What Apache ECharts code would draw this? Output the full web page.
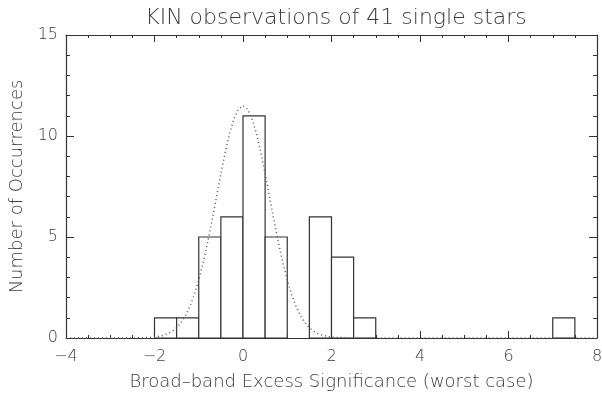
<!DOCTYPE html>
<html>
<head>
<meta charset="utf-8">
<script src="https://cdn.jsdelivr.net/npm/echarts@6/dist/echarts.min.js"></script>
<style>
  html, body { margin: 0; padding: 0; background: #fff; }
  #chart { width: 602px; height: 395px; }
</style>
</head>
<body>
<div id="chart"></div>
<script>
// histogram bins (left edge, right edge) and counts
const binLeft = [-2, -1.5, -1, -0.5, 0, 0.5, 1.5, 2, 2.5, 7];
const binRight = [-1.5, -1, -0.5, 0, 0.5, 1, 2, 2.5, 3, 7.5];
const counts = [1, 1, 5, 6, 11, 5, 6, 4, 1, 1];

// dotted curve
const curveX = [-4, -2.5, -2, -1.8, -1.7, -1.6, -1.5, -1.4, -1.3, -1.2, -1.1, -1, -0.9, -0.8, -0.7, -0.6, -0.5, -0.4, -0.3, -0.2, -0.1, 0,
  0.1, 0.2, 0.3, 0.4, 0.5, 0.6, 0.7, 0.8, 0.9, 1, 1.1, 1.2, 1.3, 1.4, 1.5, 1.6, 1.7, 1.8, 2, 2.5, 8];
const curveY = [0, 0, 0.04, 0.13, 0.21, 0.33, 0.5, 0.76, 1.1, 1.56, 2.14, 2.87, 3.73, 4.73, 5.82, 6.97, 8.13, 9.21, 10.15, 10.88, 11.34, 11.5,
  11.34, 10.88, 10.15, 9.21, 8.13, 6.97, 5.82, 4.73, 3.73, 2.87, 2.14, 1.56, 1.1, 0.76, 0.5, 0.33, 0.21, 0.13, 0.04, 0, 0];

const xTicks = ['−4', '−2', '0', '2', '4', '6', '8'];

const ink = '#333';
const textCol = '#3a3a3a';
const font = 'DejaVu Sans';
const weight = 200;

const chart = echarts.init(document.getElementById('chart'), null, { renderer: 'canvas' });

const histData = binLeft.map((l, i) => [l, binRight[i], counts[i]]);
const curveData = curveX.map((x, i) => [x, curveY[i]]);

const xCommon = {
  type: 'value', min: -4, max: 8, interval: 2,
  axisLine: { show: true, onZero: false, lineStyle: { color: ink, width: 1.2 } },
  axisTick: { show: true, inside: true, length: 7, lineStyle: { color: ink } },
  minorTick: { show: true, splitNumber: 4, length: 3, lineStyle: { color: ink } },
  splitLine: { show: false },
  minorSplitLine: { show: false }
};
const yCommon = {
  type: 'value', min: 0, max: 15, interval: 5,
  axisLine: { show: true, onZero: false, lineStyle: { color: ink, width: 1.2 } },
  axisTick: { show: true, inside: true, length: 8, lineStyle: { color: ink } },
  minorTick: { show: true, splitNumber: 5, length: 4, lineStyle: { color: ink } },
  splitLine: { show: false },
  minorSplitLine: { show: false }
};

chart.setOption({
  animation: false,
  backgroundColor: '#fff',
  title: {
    text: 'KIN observations of 41 single stars',
    left: 331, top: 2, textAlign: 'center',
    textStyle: { fontFamily: font, fontSize: 22, fontWeight: weight, color: textCol }
  },
  grid: { left: 66, right: 5, top: 35, bottom: 57, containLabel: false, outerBoundsMode: 'none' },
  xAxis: [
    Object.assign({}, xCommon, {
      position: 'bottom',
      name: 'Broad–band Excess Significance (worst case)',
      nameLocation: 'middle', nameGap: 35,
      nameTextStyle: { fontFamily: font, fontSize: 18, fontWeight: weight, color: textCol },
      axisLabel: {
        margin: 11, fontFamily: font, fontSize: 16, fontWeight: weight, color: textCol,
        formatter: v => xTicks[Math.round((v + 4) / 2)]
      }
    }),
    Object.assign({}, xCommon, { position: 'top', axisLabel: { show: false } })
  ],
  yAxis: [
    Object.assign({}, yCommon, {
      position: 'left',
      name: 'Number of Occurrences',
      nameLocation: 'middle', nameGap: 38, nameRotate: 90,
      nameTextStyle: { fontFamily: font, fontSize: 18, fontWeight: weight, color: textCol },
      axisLabel: { margin: 8, fontFamily: font, fontSize: 16, fontWeight: weight, color: textCol }
    }),
    Object.assign({}, yCommon, { position: 'right', axisLabel: { show: false } })
  ],
  series: [
    {
      type: 'custom',
      xAxisIndex: 0, yAxisIndex: 0,
      data: histData,
      z: 2,
      renderItem: function (params, api) {
        const a = api.coord([api.value(0), api.value(2)]);
        const b = api.coord([api.value(1), 0]);
        return {
          type: 'rect',
          shape: { x: a[0], y: a[1], width: b[0] - a[0], height: b[1] - a[1] },
          style: { fill: '#fff', stroke: ink, lineWidth: 1.2 }
        };
      }
    },
    {
      type: 'line',
      xAxisIndex: 0, yAxisIndex: 0,
      data: curveData,
      showSymbol: false,
      smooth: false,
      z: 3,
      lineStyle: { color: '#555', width: 1.5, type: [1, 3] }
    }
  ]
});
</script>
</body>
</html>
